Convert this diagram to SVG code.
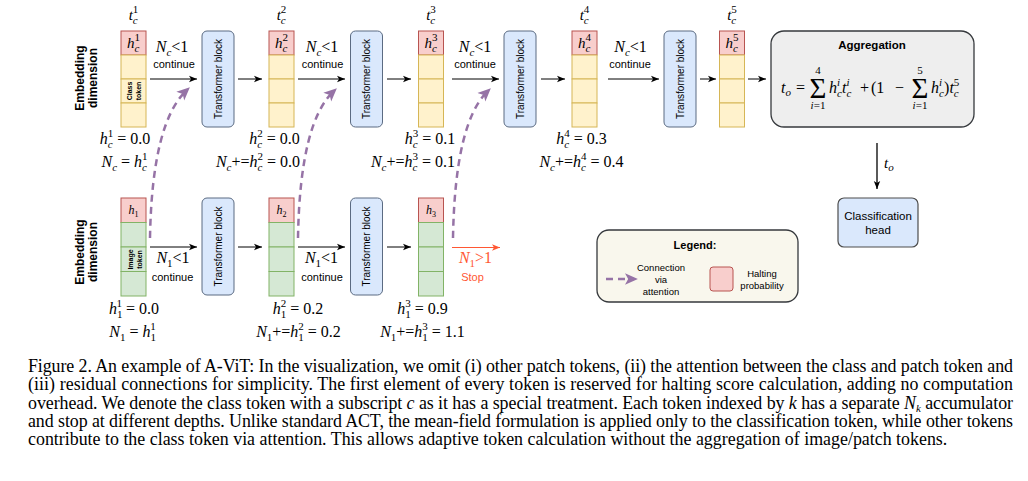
<svg xmlns="http://www.w3.org/2000/svg" width="1028" height="481" viewBox="0 0 1028 481">
<style>
.m{font-family:"Liberation Serif","DejaVu Serif",serif;font-size:16px;fill:#000}
.i{font-style:italic}
.s{font-size:11px}
.si{font-size:11px;font-style:italic}
.sans{font-family:"Liberation Sans",Arial,sans-serif;fill:#000}
.b{font-weight:bold}
.y{fill:#fff2cc;stroke:#d6b656;stroke-width:1}
.p{fill:#f8cecc;stroke:#b85450;stroke-width:1}
.g{fill:#d5e8d4;stroke:#82b366;stroke-width:1}
.tb{fill:#dae8fc;stroke:#5b6b82;stroke-width:1}
.tbt{font-family:"Liberation Sans",Arial,sans-serif;font-size:10px;fill:#000}
.cap{font-family:"Liberation Serif","Times New Roman",serif;font-size:17.9px;fill:#000}
</style>
<defs>
<marker id="ab" viewBox="0 0 10 10" refX="10" refY="5" markerWidth="8" markerHeight="8" markerUnits="userSpaceOnUse" orient="auto"><path d="M0,1 L10,5 L0,9 L2.5,5 z" fill="#000"/></marker>
<marker id="ar" viewBox="0 0 10 10" refX="10" refY="5" markerWidth="8" markerHeight="8" markerUnits="userSpaceOnUse" orient="auto"><path d="M0,1 L10,5 L0,9 L2.5,5 z" fill="#ff5733"/></marker>
<marker id="ap" viewBox="0 0 10 10" refX="7" refY="5" markerWidth="13" markerHeight="13" markerUnits="userSpaceOnUse" orient="auto"><path d="M0,0.5 L10,5 L0,9.5 L2.5,5 z" fill="#9673a6"/></marker>
</defs>
<rect width="1028" height="481" fill="#fff"/>

<!-- side labels -->
<g id="label-embed-top">
<text transform="translate(84,78) rotate(-90)" text-anchor="middle" class="sans b" font-size="12"><tspan x="0" y="0">Embedding</tspan><tspan x="0" y="13">dimension</tspan></text>
</g>
<g id="label-embed-bottom">
<text transform="translate(84,252) rotate(-90)" text-anchor="middle" class="sans b" font-size="12"><tspan x="0" y="0">Embedding</tspan><tspan x="0" y="13">dimension</tspan></text>
</g>

<!-- class token columns -->
<g id="tc1">
<rect class="p" x="121" y="31" width="25" height="24"/><rect class="y" x="121" y="55" width="25" height="24"/><rect class="y" x="121" y="79" width="25" height="24"/><rect class="y" x="121" y="103" width="25" height="24"/>
<text class="m" x="133.5" y="20" text-anchor="middle" style="font-size:15px"><tspan class="i">t</tspan><tspan class="si" dy="4">c</tspan><tspan class="s" dx="-4.9" dy="-11">1</tspan></text>
<text class="m" x="133.5" y="47.5" text-anchor="middle" style="font-size:15px"><tspan class="i">h</tspan><tspan class="si" dy="4">c</tspan><tspan class="s" dx="-4.9" dy="-11">1</tspan></text>
<text transform="translate(131.5,91) rotate(-90)" text-anchor="middle" class="sans b" font-size="7"><tspan x="0" y="0">Class</tspan><tspan x="0" y="9">token</tspan></text>
<text class="m" x="125" y="144" text-anchor="middle"><tspan class="i">h</tspan><tspan class="si" dy="4">c</tspan><tspan class="s" dx="-4.9" dy="-11">1</tspan><tspan dy="7"> = 0.0</tspan></text>
<text class="m" x="124.5" y="167" text-anchor="middle"><tspan class="i">N</tspan><tspan class="si" dy="4">c</tspan><tspan dy="-4"> = </tspan><tspan class="i">h</tspan><tspan class="si" dy="4">c</tspan><tspan class="s" dx="-4.9" dy="-11">1</tspan></text>
</g>
<g id="tc2">
<rect class="p" x="269" y="31" width="25" height="24"/><rect class="y" x="269" y="55" width="25" height="24"/><rect class="y" x="269" y="79" width="25" height="24"/><rect class="y" x="269" y="103" width="25" height="24"/>
<text class="m" x="281.5" y="20" text-anchor="middle" style="font-size:15px"><tspan class="i">t</tspan><tspan class="si" dy="4">c</tspan><tspan class="s" dx="-4.9" dy="-11">2</tspan></text>
<text class="m" x="281.5" y="47.5" text-anchor="middle" style="font-size:15px"><tspan class="i">h</tspan><tspan class="si" dy="4">c</tspan><tspan class="s" dx="-4.9" dy="-11">2</tspan></text>
<text class="m" x="274.5" y="144" text-anchor="middle"><tspan class="i">h</tspan><tspan class="si" dy="4">c</tspan><tspan class="s" dx="-4.9" dy="-11">2</tspan><tspan dy="7"> = 0.0</tspan></text>
<text class="m" x="258" y="167" text-anchor="middle"><tspan class="i">N</tspan><tspan class="si" dy="4">c</tspan><tspan dy="-4">+=</tspan><tspan class="i">h</tspan><tspan class="si" dy="4">c</tspan><tspan class="s" dx="-4.9" dy="-11">2</tspan><tspan dy="7"> = 0.0</tspan></text>
</g>
<g id="tc3">
<rect class="p" x="418.5" y="31" width="25" height="24"/><rect class="y" x="418.5" y="55" width="25" height="24"/><rect class="y" x="418.5" y="79" width="25" height="24"/><rect class="y" x="418.5" y="103" width="25" height="24"/>
<text class="m" x="431" y="20" text-anchor="middle" style="font-size:15px"><tspan class="i">t</tspan><tspan class="si" dy="4">c</tspan><tspan class="s" dx="-4.9" dy="-11">3</tspan></text>
<text class="m" x="431" y="47.5" text-anchor="middle" style="font-size:15px"><tspan class="i">h</tspan><tspan class="si" dy="4">c</tspan><tspan class="s" dx="-4.9" dy="-11">3</tspan></text>
<text class="m" x="430" y="144" text-anchor="middle"><tspan class="i">h</tspan><tspan class="si" dy="4">c</tspan><tspan class="s" dx="-4.9" dy="-11">3</tspan><tspan dy="7"> = 0.1</tspan></text>
<text class="m" x="413" y="167" text-anchor="middle"><tspan class="i">N</tspan><tspan class="si" dy="4">c</tspan><tspan dy="-4">+=</tspan><tspan class="i">h</tspan><tspan class="si" dy="4">c</tspan><tspan class="s" dx="-4.9" dy="-11">3</tspan><tspan dy="7"> = 0.1</tspan></text>
</g>
<g id="tc4">
<rect class="p" x="572" y="31" width="25" height="24"/><rect class="y" x="572" y="55" width="25" height="24"/><rect class="y" x="572" y="79" width="25" height="24"/><rect class="y" x="572" y="103" width="25" height="24"/>
<text class="m" x="584.5" y="20" text-anchor="middle" style="font-size:15px"><tspan class="i">t</tspan><tspan class="si" dy="4">c</tspan><tspan class="s" dx="-4.9" dy="-11">4</tspan></text>
<text class="m" x="584.5" y="47.5" text-anchor="middle" style="font-size:15px"><tspan class="i">h</tspan><tspan class="si" dy="4">c</tspan><tspan class="s" dx="-4.9" dy="-11">4</tspan></text>
<text class="m" x="581.5" y="144" text-anchor="middle"><tspan class="i">h</tspan><tspan class="si" dy="4">c</tspan><tspan class="s" dx="-4.9" dy="-11">4</tspan><tspan dy="7"> = 0.3</tspan></text>
<text class="m" x="581.5" y="167" text-anchor="middle"><tspan class="i">N</tspan><tspan class="si" dy="4">c</tspan><tspan dy="-4">+=</tspan><tspan class="i">h</tspan><tspan class="si" dy="4">c</tspan><tspan class="s" dx="-4.9" dy="-11">4</tspan><tspan dy="7"> = 0.4</tspan></text>
</g>
<g id="tc5">
<rect class="p" x="719.5" y="31" width="25" height="24"/><rect class="y" x="719.5" y="55" width="25" height="24"/><rect class="y" x="719.5" y="79" width="25" height="24"/><rect class="y" x="719.5" y="103" width="25" height="24"/>
<text class="m" x="732" y="20" text-anchor="middle" style="font-size:15px"><tspan class="i">t</tspan><tspan class="si" dy="4">c</tspan><tspan class="s" dx="-4.9" dy="-11">5</tspan></text>
<text class="m" x="732" y="47.5" text-anchor="middle" style="font-size:15px"><tspan class="i">h</tspan><tspan class="si" dy="4">c</tspan><tspan class="s" dx="-4.9" dy="-11">5</tspan></text>
</g>

<!-- transformer blocks top -->
<g id="tb1"><rect class="tb" x="202" y="31" width="32" height="96" rx="5"/><text class="tbt" transform="translate(221.5,79) rotate(-90)" text-anchor="middle">Transformer block</text></g>
<g id="tb2"><rect class="tb" x="350.5" y="31" width="32" height="96" rx="5"/><text class="tbt" transform="translate(370,79) rotate(-90)" text-anchor="middle">Transformer block</text></g>
<g id="tb3"><rect class="tb" x="504" y="31" width="32" height="96" rx="5"/><text class="tbt" transform="translate(523.5,79) rotate(-90)" text-anchor="middle">Transformer block</text></g>
<g id="tb4"><rect class="tb" x="664" y="31" width="32" height="96" rx="5"/><text class="tbt" transform="translate(683.5,79) rotate(-90)" text-anchor="middle">Transformer block</text></g>

<!-- image token columns -->
<g id="ti1">
<rect class="p" x="121" y="198" width="25" height="24.5"/><rect class="g" x="121" y="222.5" width="25" height="24.5"/><rect class="g" x="121" y="247" width="25" height="24.5"/><rect class="g" x="121" y="271.5" width="25" height="24.5"/>
<text class="m" x="133.5" y="214" text-anchor="middle" style="font-size:12px"><tspan class="i">h</tspan><tspan dy="3" style="font-size:8px">1</tspan></text>
<text transform="translate(133,259.5) rotate(-90)" text-anchor="middle" class="sans b" font-size="7"><tspan x="0" y="0">Image</tspan><tspan x="0" y="9">token</tspan></text>
<text class="m" x="134" y="314" text-anchor="middle"><tspan class="i">h</tspan><tspan class="s" dy="4">1</tspan><tspan class="s" dx="-5.5" dy="-11">1</tspan><tspan dy="7"> = 0.0</tspan></text>
<text class="m" x="132.5" y="337" text-anchor="middle"><tspan class="i">N</tspan><tspan class="s" dy="4">1</tspan><tspan dy="-4"> = </tspan><tspan class="i">h</tspan><tspan class="s" dy="4">1</tspan><tspan class="s" dx="-5.5" dy="-11">1</tspan></text>
</g>
<g id="ti2">
<rect class="p" x="269" y="198" width="25" height="24.5"/><rect class="g" x="269" y="222.5" width="25" height="24.5"/><rect class="g" x="269" y="247" width="25" height="24.5"/><rect class="g" x="269" y="271.5" width="25" height="24.5"/>
<text class="m" x="281.5" y="214" text-anchor="middle" style="font-size:12px"><tspan class="i">h</tspan><tspan dy="3" style="font-size:8px">2</tspan></text>
<text class="m" x="298" y="314" text-anchor="middle"><tspan class="i">h</tspan><tspan class="s" dy="4">1</tspan><tspan class="s" dx="-5.5" dy="-11">2</tspan><tspan dy="7"> = 0.2</tspan></text>
<text class="m" x="298.5" y="337" text-anchor="middle"><tspan class="i">N</tspan><tspan class="s" dy="4">1</tspan><tspan dy="-4">+=</tspan><tspan class="i">h</tspan><tspan class="s" dy="4">1</tspan><tspan class="s" dx="-5.5" dy="-11">2</tspan><tspan dy="7"> = 0.2</tspan></text>
</g>
<g id="ti3">
<rect class="p" x="418.5" y="198" width="25" height="24.5"/><rect class="g" x="418.5" y="222.5" width="25" height="24.5"/><rect class="g" x="418.5" y="247" width="25" height="24.5"/><rect class="g" x="418.5" y="271.5" width="25" height="24.5"/>
<text class="m" x="431" y="214" text-anchor="middle" style="font-size:12px"><tspan class="i">h</tspan><tspan dy="3" style="font-size:8px">3</tspan></text>
<text class="m" x="422.5" y="314" text-anchor="middle"><tspan class="i">h</tspan><tspan class="s" dy="4">1</tspan><tspan class="s" dx="-5.5" dy="-11">3</tspan><tspan dy="7"> = 0.9</tspan></text>
<text class="m" x="422.5" y="337" text-anchor="middle"><tspan class="i">N</tspan><tspan class="s" dy="4">1</tspan><tspan dy="-4">+=</tspan><tspan class="i">h</tspan><tspan class="s" dy="4">1</tspan><tspan class="s" dx="-5.5" dy="-11">3</tspan><tspan dy="7"> = 1.1</tspan></text>
</g>

<!-- transformer blocks bottom -->
<g id="tb5"><rect class="tb" x="202" y="198" width="32" height="97" rx="5"/><text class="tbt" transform="translate(221.5,246.5) rotate(-90)" text-anchor="middle">Transformer block</text></g>
<g id="tb6"><rect class="tb" x="350.5" y="198" width="32" height="97" rx="5"/><text class="tbt" transform="translate(370,246.5) rotate(-90)" text-anchor="middle">Transformer block</text></g>

<!-- aggregation -->
<g id="aggregation">
<rect x="771" y="31" width="203" height="96" rx="13" fill="#eeeeee" stroke="#36393d" stroke-width="1.3"/>
<text class="sans b" x="872" y="49" text-anchor="middle" font-size="11.5">Aggregation</text>
<text class="m" x="781" y="93"><tspan class="i">t</tspan><tspan class="si" dy="3">o</tspan></text>
<text class="m" x="796" y="93">=</text>
<text class="m" x="809.5" y="98" style="font-size:29px">Σ</text>
<text class="m s" x="818" y="74" text-anchor="middle">4</text>
<text class="m s" x="818" y="109" text-anchor="middle"><tspan class="i">i</tspan>=1</text>
<text class="m" x="829" y="93"><tspan class="i">h</tspan><tspan class="si" dy="4">c</tspan><tspan class="si" dx="-4.9" dy="-11">i</tspan><tspan class="i" dx="2" dy="7">t</tspan><tspan class="si" dy="4">c</tspan><tspan class="si" dx="-4.9" dy="-11">i</tspan></text>
<text class="m" x="860" y="93">+</text>
<text class="m" x="871" y="93">(1</text>
<text class="m" x="895" y="93">−</text>
<text class="m" x="911.5" y="98" style="font-size:29px">Σ</text>
<text class="m s" x="920" y="74" text-anchor="middle">5</text>
<text class="m s" x="920" y="109" text-anchor="middle"><tspan class="i">i</tspan>=1</text>
<text class="m" x="931" y="93"><tspan class="i">h</tspan><tspan class="si" dy="4">c</tspan><tspan class="si" dx="-4.9" dy="-11">i</tspan><tspan dx="2" dy="7">)</tspan><tspan class="i">t</tspan><tspan class="si" dy="4">c</tspan><tspan class="s" dx="-4.9" dy="-11">5</tspan></text>
</g>

<!-- classification head -->
<g id="classification-head">
<rect x="838" y="198" width="80" height="49" rx="6" fill="#dae8fc" stroke="#4d4d4d" stroke-width="1.2"/>
<text class="sans" x="878" y="220" text-anchor="middle" font-size="11.5">Classification</text>
<text class="sans" x="878" y="234" text-anchor="middle" font-size="11.5">head</text>
</g>

<!-- legend -->
<g id="legend">
<rect x="597" y="230" width="201" height="72" rx="12" fill="#f9f7ed" stroke="#36393d" stroke-width="1.3"/>
<text class="sans b" x="695" y="249" text-anchor="middle" font-size="11">Legend:</text>
<path d="M606,279 H634" fill="none" stroke="#9673a6" stroke-width="2.5" stroke-dasharray="7,5" marker-end="url(#ap)"/>
<text class="sans" x="661" y="271" text-anchor="middle" font-size="9.5">Connection</text>
<text class="sans" x="661" y="283" text-anchor="middle" font-size="9.5">via</text>
<text class="sans" x="661" y="295" text-anchor="middle" font-size="9.5">attention</text>
<rect x="710" y="267" width="23" height="24" rx="3" fill="#f8cecc" stroke="#b85450"/>
<text class="sans" x="762" y="277" text-anchor="middle" font-size="9.5">Halting</text>
<text class="sans" x="762" y="289" text-anchor="middle" font-size="9.5">probability</text>
</g>

<!-- connectors -->
<g id="connectors" fill="none" stroke="#000" stroke-width="1">
<path d="M150,79 H197" marker-end="url(#ab)"/>
<path d="M238,79 H262" marker-end="url(#ab)"/>
<path d="M298,79 H345" marker-end="url(#ab)"/>
<path d="M387,79 H411" marker-end="url(#ab)"/>
<path d="M452,79 H499" marker-end="url(#ab)"/>
<path d="M541,79 H565" marker-end="url(#ab)"/>
<path d="M608,79 H659" marker-end="url(#ab)"/>
<path d="M700,79 H716" marker-end="url(#ab)"/>
<path d="M748,79 H766" marker-end="url(#ab)"/>
<path d="M150,247 H197" marker-end="url(#ab)"/>
<path d="M238,247 H262" marker-end="url(#ab)"/>
<path d="M298,247 H345" marker-end="url(#ab)"/>
<path d="M387,247 H411" marker-end="url(#ab)"/>
<path d="M452,247.5 H500" stroke="#ff5733" marker-end="url(#ar)"/>
<path d="M877,143 V189" stroke-width="1.3" marker-end="url(#ab)"/>
<g stroke="#9673a6" stroke-width="2.5" stroke-dasharray="7,5">
<path d="M150,238 Q152,122 187,90" marker-end="url(#ap)"/>
<path d="M298,238 Q300,122 334,91" marker-end="url(#ap)"/>
<path d="M453,238 Q455,122 488,91" marker-end="url(#ap)"/>
</g>
</g>

<!-- connector labels -->
<g id="connector-labels">
<text class="m" x="172" y="52" text-anchor="middle"><tspan class="i">N</tspan><tspan class="si" dy="4">c</tspan><tspan dy="-4">&lt;1</tspan></text>
<text class="sans" x="174" y="68" text-anchor="middle" font-size="11">continue</text>
<text class="m" x="322" y="52" text-anchor="middle"><tspan class="i">N</tspan><tspan class="si" dy="4">c</tspan><tspan dy="-4">&lt;1</tspan></text>
<text class="sans" x="322.5" y="68" text-anchor="middle" font-size="11">continue</text>
<text class="m" x="475" y="52" text-anchor="middle"><tspan class="i">N</tspan><tspan class="si" dy="4">c</tspan><tspan dy="-4">&lt;1</tspan></text>
<text class="sans" x="475" y="68" text-anchor="middle" font-size="11">continue</text>
<text class="m" x="630.5" y="52" text-anchor="middle"><tspan class="i">N</tspan><tspan class="si" dy="4">c</tspan><tspan dy="-4">&lt;1</tspan></text>
<text class="sans" x="630" y="68" text-anchor="middle" font-size="11">continue</text>
<text class="m" x="173" y="263" text-anchor="middle"><tspan class="i">N</tspan><tspan class="s" dy="4">1</tspan><tspan dy="-4">&lt;1</tspan></text>
<text class="sans" x="172.5" y="281" text-anchor="middle" font-size="11">continue</text>
<text class="m" x="321.5" y="263" text-anchor="middle"><tspan class="i">N</tspan><tspan class="s" dy="4">1</tspan><tspan dy="-4">&lt;1</tspan></text>
<text class="sans" x="322" y="281" text-anchor="middle" font-size="11">continue</text>
<text class="m" x="475.5" y="263" text-anchor="middle" style="fill:#ff5733"><tspan class="i">N</tspan><tspan class="s" dy="4">1</tspan><tspan dy="-4">&gt;1</tspan></text>
<text class="sans" x="472.5" y="281" text-anchor="middle" font-size="11" style="fill:#ff5733">Stop</text>
<text class="m i" x="884" y="168" style="font-size:15px">t<tspan class="si" dy="3">o</tspan></text>
</g>

<!-- caption -->
<g id="caption">
<text class="cap" x="28" y="372" textLength="985" lengthAdjust="spacing">Figure 2. An example of A-ViT: In the visualization, we omit (i) other patch tokens, (ii) the attention between the class and patch token and</text>
<text class="cap" x="28" y="390.3" textLength="985" lengthAdjust="spacing">(iii) residual connections for simplicity. The first element of every token is reserved for halting score calculation, adding no computation</text>
<text class="cap" x="28" y="408.5" textLength="985" lengthAdjust="spacing">overhead. We denote the class token with a subscript <tspan class="i">c</tspan> as it has a special treatment. Each token indexed by <tspan class="i">k</tspan> has a separate <tspan class="i">N</tspan><tspan class="si" dy="3">k</tspan><tspan dy="-3"> accumulator</tspan></text>
<text class="cap" x="28" y="426.8" textLength="985" lengthAdjust="spacing">and stop at different depths. Unlike standard ACT, the mean-field formulation is applied only to the classification token, while other tokens</text>
<text class="cap" x="28" y="445">contribute to the class token via attention. This allows adaptive token calculation without the aggregation of image/patch tokens.</text>
</g>
</svg>
